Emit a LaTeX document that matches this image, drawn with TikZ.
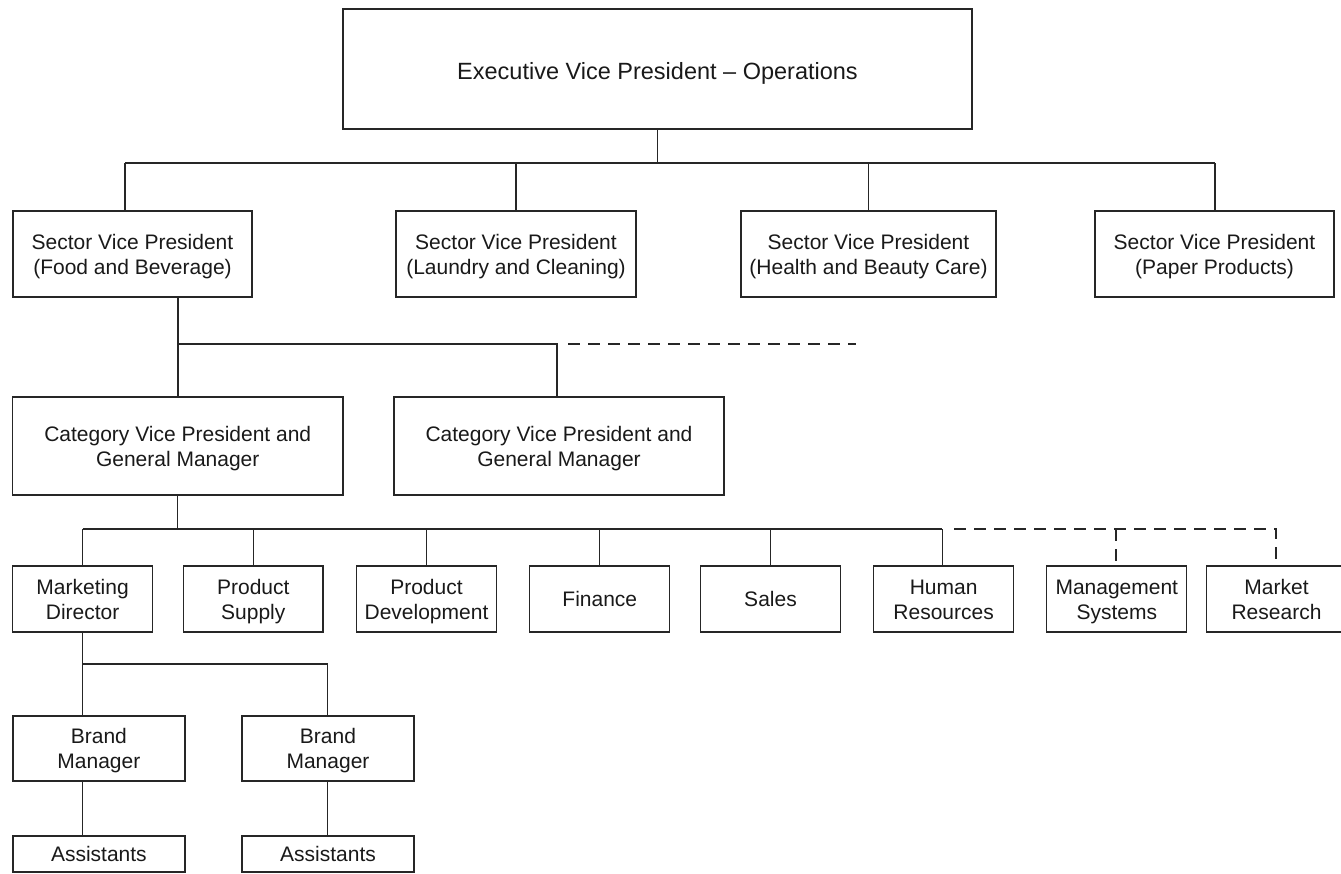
\documentclass[tikz,border=0pt]{standalone}
\usepackage{fontspec}
\setmainfont{Liberation Sans}
\newcommand\mystrut{\rule[-5pt]{0pt}{25pt}}
\begin{document}
\begin{tikzpicture}[x=1pt,y=-1pt, line width=1.3pt, color=black!85,
  box/.style={draw, rectangle, inner sep=0pt, align=center,
    font=\fontsize{21}{25}\selectfont, text=black!90},
  dashline/.style={dash pattern=on 12pt off 8pt}]
\clip (0,0) rectangle (1341,873);
% level 0
\node[box, minimum width=629pt, minimum height=120pt, font=\fontsize{23.5}{28}\selectfont] (top) at (657.5,69) {\rule[-5.2pt]{0pt}{32.2pt}Executive Vice President -- Operations};
% level 1
\node[box, minimum width=239pt, minimum height=86pt] (s1) at (132.5,254) {\mystrut Sector Vice President\\\mystrut(Food and Beverage)};
\node[box, minimum width=240pt, minimum height=86pt] (s2) at (516,254) {\mystrut Sector Vice President\\\mystrut(Laundry and Cleaning)};
\node[box, minimum width=255pt, minimum height=86pt] (s3) at (868.5,254) {\mystrut Sector Vice President\\\mystrut(Health and Beauty Care)};
\node[box, minimum width=239pt, minimum height=86pt] (s4) at (1214.5,254) {\mystrut Sector Vice President\\\mystrut(Paper Products)};
% level 2
\node[box, minimum width=330.5pt, minimum height=98pt] (c1) at (177.75,446) {\mystrut Category Vice President and\\\mystrut General Manager};
\node[box, minimum width=330pt, minimum height=98pt] (c2) at (559,446) {\mystrut Category Vice President and\\\mystrut General Manager};
% level 3
\node[box, minimum width=140pt, minimum height=66pt] (m1) at (82.6,599) {\mystrut Marketing\\\mystrut Director};
\node[box, minimum width=139.5pt, minimum height=66pt] (m2) at (253.3,599) {\mystrut Product\\\mystrut Supply};
\node[box, minimum width=140pt, minimum height=66pt] (m3) at (426.5,599) {\mystrut Product\\\mystrut Development};
\node[box, minimum width=140pt, minimum height=66pt] (m4) at (599.8,599) {\mystrut Finance};
\node[box, minimum width=140pt, minimum height=66pt] (m5) at (770.5,599) {\mystrut Sales};
\node[box, minimum width=140pt, minimum height=66pt] (m6) at (943.6,599) {\mystrut Human\\\mystrut Resources};
\node[box, minimum width=140pt, minimum height=66pt] (m7) at (1116.8,599) {\mystrut Management\\\mystrut Systems};
\node[box, minimum width=140pt, minimum height=66pt] (m8) at (1276.5,599) {\mystrut Market\\\mystrut Research};
% level 4
\node[box, minimum width=172pt, minimum height=65pt] (br1) at (98.9,748.5) {\mystrut Brand\\\mystrut Manager};
\node[box, minimum width=172pt, minimum height=65pt] (br2) at (328,748.5) {\mystrut Brand\\\mystrut Manager};
\node[box, minimum width=172pt, minimum height=36pt] (as1) at (98.9,854) {\mystrut Assistants};
\node[box, minimum width=172pt, minimum height=36pt] (as2) at (328,854) {\mystrut Assistants};
% connectors level 0-1
\coordinate (b1l) at (125,163);
\coordinate (b1r) at (1215,163);
\draw (top.south) -- (top.south |- b1l);
\draw (b1l) -- (b1r);
\draw (b1l) -- (b1l |- s1.north);
\draw (s2.north) -- (s2.north |- b1l);
\draw (s3.north) -- (s3.north |- b1l);
\draw (b1r) -- (b1r |- s4.north);
% connectors level 1-2
\coordinate (b2l) at (178,344);
\coordinate (b2r) at (557,344);
\coordinate (d2l) at (568,344);
\coordinate (d2r) at (856,344);
\draw (b2l |- s1.south) -- (b2l) -- (b2r) -- (b2r |- c2.north);
\draw (b2l) -- (b2l |- c1.north);
\draw[dashline] (d2l) -- (d2r);
% connectors level 2-3
\coordinate (b3l) at (82.6,529);
\coordinate (b3r) at (942.2,529);
\coordinate (d3l) at (954,529);
\coordinate (d3r) at (1276,529);
\coordinate (d3m) at (1116,529);
\draw (c1.south) -- (c1.south |- b3l);
\draw (b3l) -- (b3r);
\draw (b3l) -- (b3l |- m1.north);
\draw (m2.north) -- (m2.north |- b3l);
\draw (m3.north) -- (m3.north |- b3l);
\draw (m4.north) -- (m4.north |- b3l);
\draw (m5.north) -- (m5.north |- b3l);
\draw (b3r) -- (b3r |- m6.north);
\draw[dashline] (d3l) -- (d3r) -- (d3r |- m8.north);
\draw[dashline] (d3m) -- (d3m |- m7.north);
% connectors level 3-4
\coordinate (b4l) at (82.6,664);
\coordinate (b4r) at (327.3,664);
\draw (b4l |- m1.south) -- (b4l) -- (b4r) -- (b4r |- br2.north);
\draw (b4l) -- (b4l |- br1.north);
\draw (b4l |- br1.south) -- (b4l |- as1.north);
\draw (b4r |- br2.south) -- (b4r |- as2.north);
\end{tikzpicture}
\end{document}
